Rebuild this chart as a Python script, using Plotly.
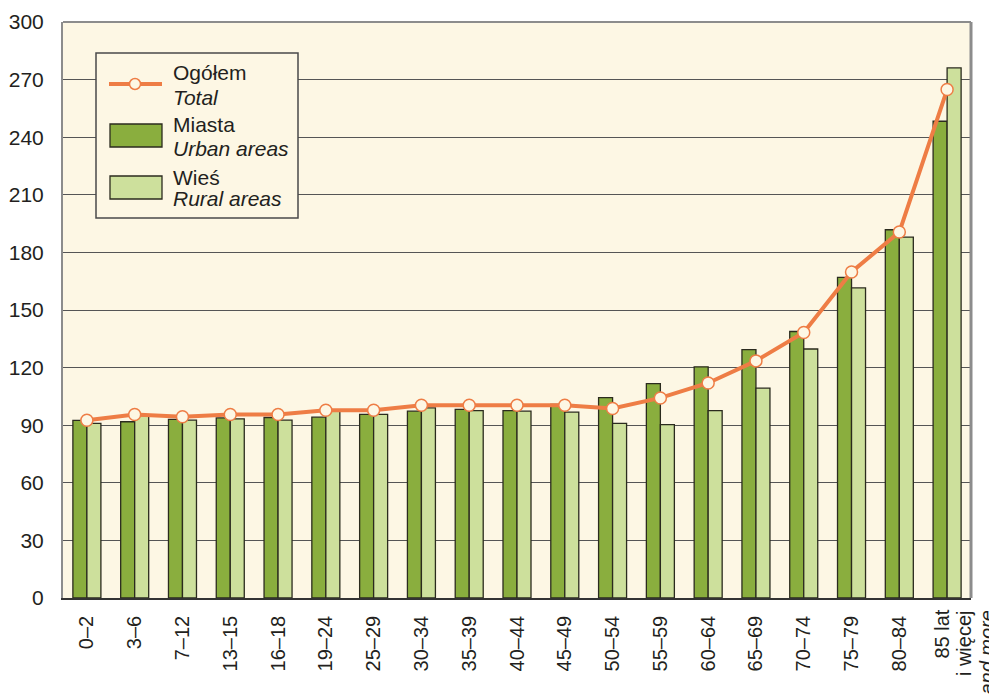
import plotly.graph_objects as go

categories = ["0–2", "3–6", "7–12", "13–15", "16–18", "19–24", "25–29", "30–34", "35–39",
              "40–44", "45–49", "50–54", "55–59", "60–64", "65–69", "70–74", "75–79", "80–84", "85+"]
tick_labels = ["0–2", "3–6", "7–12", "13–15", "16–18", "19–24", "25–29", "30–34", "35–39",
               "40–44", "45–49", "50–54", "55–59", "60–64", "65–69", "70–74", "75–79", "80–84", ""]
last_label_lines = ["85 lat", "i więcej", "<i>and more</i>"]
urban = [92.5, 91.8, 93.0, 93.8, 94.0, 94.2, 95.6, 97.3, 98.2, 97.6, 100.8, 104.4, 111.7,
         120.4, 129.4, 138.8, 167.0, 191.8, 248.3]
rural = [91.0, 95.0, 92.6, 93.3, 92.6, 97.2, 95.6, 99.0, 97.6, 97.3, 96.8, 91.0, 90.3,
         97.6, 109.3, 129.7, 161.5, 188.0, 276.1]
total = [92.6, 95.6, 94.4, 95.6, 95.6, 97.8, 97.8, 100.4, 100.4, 100.4, 100.4, 98.7, 104.2,
         112.0, 123.5, 138.3, 169.8, 190.6, 264.8]
y_ticks = [0, 30, 60, 90, 120, 150, 180, 210, 240, 270, 300]
legend_lines = [("Ogółem", "Total"), ("Miasta", "Urban areas"), ("Wieś", "Rural areas")]

C_URBAN = "#8AAE3E"
C_RURAL = "#CDE09C"
C_LINE = "#EE7D45"
C_BG = "#FDF7E4"
C_EDGE = "#2B2B1E"
C_TEXT = "#231F20"
FONT = "Liberation Sans, Arial, sans-serif"

fig = go.Figure()
fig.add_trace(go.Bar(x=categories, y=urban, name="Miasta", marker=dict(color=C_URBAN, line=dict(color=C_EDGE, width=1.3))))
fig.add_trace(go.Bar(x=categories, y=rural, name="Wieś", marker=dict(color=C_RURAL, line=dict(color=C_EDGE, width=1.3))))
fig.add_trace(go.Scatter(x=categories, y=total, name="Ogółem", mode="lines+markers",
                         line=dict(color=C_LINE, width=4),
                         marker=dict(size=12, color=C_BG, line=dict(color=C_LINE, width=1.5))))

# page body has an 8px margin; target plot area on screen: x 63..971, y 22..598
OFF = 8
L, R, T, B = 63 - OFF, 971 - OFF, 22 - OFF, 598 - OFF
W, H = 997, 694
def px(x):
    return (x - OFF - L) / (R - L)
def py(y):
    return (B - (y - OFF)) / (B - T)

shapes = []
shapes.append(dict(type="line", xref="paper", yref="paper", x0=0, x1=1, y0=1, y1=1,
                   line=dict(color="#8C8C8C", width=2)))
shapes.append(dict(type="line", xref="paper", yref="paper", x0=1, x1=1, y0=0, y1=1,
                   line=dict(color="#8C8C8C", width=3)))
shapes.append(dict(type="rect", xref="paper", yref="paper", x0=px(96), x1=px(298), y0=py(218), y1=py(53),
                   fillcolor=C_BG, line=dict(color="#4A4A4A", width=1.5)))
shapes.append(dict(type="line", xref="paper", yref="paper", x0=px(109), x1=px(162), y0=py(84), y1=py(84),
                   line=dict(color=C_LINE, width=4)))
shapes.append(dict(type="circle", xref="paper", yref="paper", x0=px(129.5), x1=px(140.5), y0=py(89.5), y1=py(78.5),
                   fillcolor=C_BG, line=dict(color=C_LINE, width=1.5)))
shapes.append(dict(type="rect", xref="paper", yref="paper", x0=px(110), x1=px(162), y0=py(147), y1=py(124),
                   fillcolor=C_URBAN, line=dict(color=C_EDGE, width=1.3)))
shapes.append(dict(type="rect", xref="paper", yref="paper", x0=px(110), x1=px(162), y0=py(199), y1=py(176),
                   fillcolor=C_RURAL, line=dict(color=C_EDGE, width=1.3)))

annotations = []
for (pl, en), (y1, y2) in zip(legend_lines, [(73, 97), (125, 148), (177, 199)]):
    annotations.append(dict(xref="paper", yref="paper", x=px(171), y=py(y1), text=pl, showarrow=False,
                            xanchor="left", yanchor="middle", align="left",
                            font=dict(family=FONT, size=21, color=C_TEXT)))
    annotations.append(dict(xref="paper", yref="paper", x=px(171), y=py(y2), text="<i>" + en + "</i>", showarrow=False,
                            xanchor="left", yanchor="middle", align="left",
                            font=dict(family=FONT, size=21, color=C_TEXT)))

# multi-line label of the last category, drawn line by line
for line_text, dx in zip(last_label_lines, [-6, 17, 39]):
    annotations.append(dict(xref="x", yref="paper", x=categories[-1], y=py(608), xshift=dx,
                            text=line_text, textangle=-90, showarrow=False,
                            xanchor="center", yanchor="top",
                            font=dict(family=FONT, size=20, color=C_TEXT)))

fig.update_layout(
    width=W, height=H,
    margin=dict(l=L, r=W - R, t=T, b=H - B, autoexpand=False),
    paper_bgcolor="white", plot_bgcolor=C_BG,
    barmode="group", bargap=0.414, bargroupgap=0,
    showlegend=False,
    font=dict(family=FONT, size=21, color=C_TEXT),
    shapes=shapes, annotations=annotations,
    xaxis=dict(range=[-0.5, 18.5], tickmode="array", tickvals=categories, ticktext=tick_labels,
               tickangle=-90, ticks="outside", ticklen=8, tickcolor="rgba(0,0,0,0)",
               showline=True, linecolor="#333333", linewidth=1.5, showgrid=False, automargin=False,
               tickfont=dict(family=FONT, size=20, color=C_TEXT)),
    yaxis=dict(range=[0, 300], tickvals=y_ticks, ticks="outside", ticklen=13, tickcolor="rgba(0,0,0,0)",
               showgrid=True, gridcolor="#555555", gridwidth=1.2, zeroline=False, automargin=False,
               showline=True, linecolor="#8C8C8C", linewidth=2,
               tickfont=dict(family=FONT, size=21, color=C_TEXT)),
)

fig.write_html("out.html")
